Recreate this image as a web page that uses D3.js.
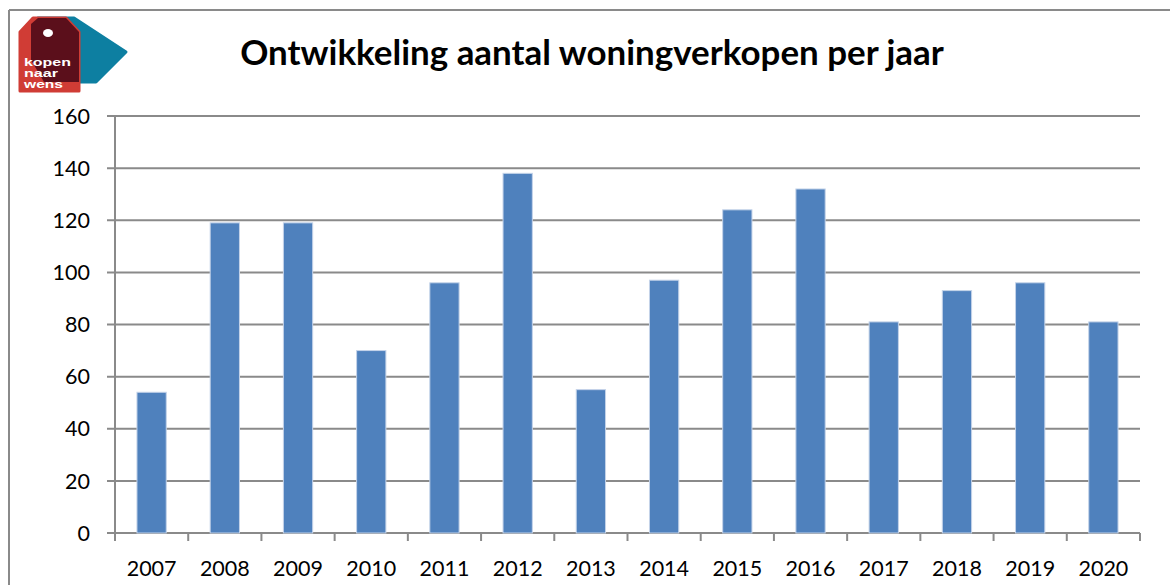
<!DOCTYPE html>
<html>
<head>
<meta charset="utf-8">
<script src="https://cdn.jsdelivr.net/npm/d3@7"></script>
<style>
  body { margin: 0; background: #fff; }
  #viewportContainer { width: 1170px; height: 585px; }
</style>
</head>
<body>
<div id="viewportContainer"></div>
<script>
/* --- データ --- */
const years = ["2007", "2008", "2009", "2010", "2011", "2012", "2013", "2014", "2015", "2016", "2017", "2018", "2019", "2020"];
const sales = [54, 119, 119, 70, 96, 138, 55, 97, 124, 132, 81, 93, 96, 81];
const yTicks = [0, 20, 40, 60, 80, 100, 120, 140, 160];
const titleText = "Ontwikkeling aantal woningverkopen per jaar";
const logoLines = ["kopen", "naar", "wens"];
const logoWidths = [47, 34, 39];

/* --- ビューポート --- */
const viewport = { width: 1170, height: 585 };
const plot = { left: 115, right: 1140, top: 116, bottom: 533 };
const gridColor = "#8a8a8a";
const fontFamily = "Lato, 'Open Sans', 'Liberation Sans', sans-serif";

const svg = d3
  .select("#viewportContainer")
  .append("svg")
  .attr("width", viewport.width)
  .attr("height", viewport.height);

// 外枠（上と左）
svg.append("line")
  .attr("x1", 9).attr("y1", 10).attr("x2", viewport.width).attr("y2", 10)
  .attr("stroke", gridColor).attr("stroke-width", 2);
svg.append("line")
  .attr("x1", 9).attr("y1", 10).attr("x2", 9).attr("y2", viewport.height)
  .attr("stroke", gridColor).attr("stroke-width", 2);

/* --- ロゴ --- */
const logo = svg.append("g").attr("id", "logo");
const redTag = "M20,91 L20,32 L33,18 L66,18 L79,32 L79,91 Z";
const blueTag = "M31,24 L38,18 L74,18 L126,52 L96,82 L44,82 L31,60 Z";
logo.append("path").attr("d", blueTag).attr("fill", "#0d7fa1")
  .attr("stroke", "#0d7fa1").attr("stroke-width", 3).attr("stroke-linejoin", "round");
logo.append("path").attr("d", redTag).attr("fill", "#d03c35")
  .attr("stroke", "#d03c35").attr("stroke-width", 3).attr("stroke-linejoin", "round");
// 重なり部分
logo.append("clipPath").attr("id", "redClip").append("path").attr("d", redTag);
logo.append("path").attr("d", blueTag).attr("fill", "#5b0f1b")
  .attr("clip-path", "url(#redClip)");
logo.append("ellipse").attr("cx", 48).attr("cy", 33).attr("rx", 5).attr("ry", 4).attr("fill", "#fff");
logoLines.forEach((t, i) => {
  logo.append("text")
    .attr("x", 24)
    .attr("y", 66 + i * 11)
    .attr("font-family", "'Liberation Sans', Arial, sans-serif")
    .attr("font-weight", "bold")
    .attr("font-size", "10px")
    .attr("textLength", logoWidths[i])
    .attr("lengthAdjust", "spacingAndGlyphs")
    .attr("fill", "#fff")
    .text(t);
});

/* --- タイトル --- */
const title = svg.append("text")
  .attr("x", 592)
  .attr("y", 65)
  .attr("text-anchor", "middle")
  .attr("font-family", fontFamily)
  .attr("font-weight", "bold")
  .attr("font-size", "31px")
  .attr("fill", "#000")
  .text(titleText);
// 幅を合わせる
const tw = title.node().getComputedTextLength();
title.attr("font-size", (31 * 704 / tw).toFixed(2) + "px");

/* --- スケール --- */
const x = d3.scaleBand()
  .domain(years)
  .range([plot.left, plot.right])
  .paddingInner(0.6)
  .paddingOuter(0.3);
const y = d3.scaleLinear().domain([0, 160]).range([plot.bottom, plot.top]);

// グリッド線
svg.append("g")
  .selectAll("line")
  .data(yTicks)
  .enter()
  .append("line")
  .attr("x1", plot.left - 8)
  .attr("x2", plot.right)
  .attr("y1", (d) => y(d))
  .attr("y2", (d) => y(d))
  .attr("stroke", gridColor)
  .attr("stroke-width", 2);

// Y軸ラベル
svg.append("g")
  .selectAll("text")
  .data(yTicks)
  .enter()
  .append("text")
  .attr("x", 90)
  .attr("y", (d) => y(d))
  .attr("dy", "0.36em")
  .attr("text-anchor", "end")
  .attr("font-family", fontFamily)
  .attr("font-size", "21.5px")
  .attr("fill", "#000")
  .text((d) => d);

// 縦軸
svg.append("line")
  .attr("x1", plot.left).attr("x2", plot.left)
  .attr("y1", plot.top).attr("y2", plot.bottom + 8)
  .attr("stroke", gridColor).attr("stroke-width", 2);

// X軸の目盛り（カテゴリ境界）
const step = x.step();
svg.append("g")
  .selectAll("line")
  .data(years)
  .enter()
  .append("line")
  .attr("x1", (d) => x(d) - step * 0.3 + step)
  .attr("x2", (d) => x(d) - step * 0.3 + step)
  .attr("y1", plot.bottom)
  .attr("y2", plot.bottom + 8)
  .attr("stroke", gridColor)
  .attr("stroke-width", 2);

/* --- 棒 --- */
svg.append("g")
  .selectAll("rect")
  .data(sales)
  .enter()
  .append("rect")
  .attr("x", (d, i) => x(years[i]))
  .attr("y", (d) => y(d))
  .attr("width", x.bandwidth())
  .attr("height", (d) => y(0) - y(d))
  .attr("fill", "#4f81bd")
  .attr("stroke", "#c4d3e9")
  .attr("stroke-width", 1);

// X軸ラベル
svg.append("g")
  .selectAll("text")
  .data(years)
  .enter()
  .append("text")
  .attr("x", (d) => x(d) + x.bandwidth() / 2)
  .attr("y", 576)
  .attr("text-anchor", "middle")
  .attr("font-family", fontFamily)
  .attr("font-size", "21.5px")
  .attr("fill", "#000")
  .text((d) => d);
</script>
</body>
</html>
